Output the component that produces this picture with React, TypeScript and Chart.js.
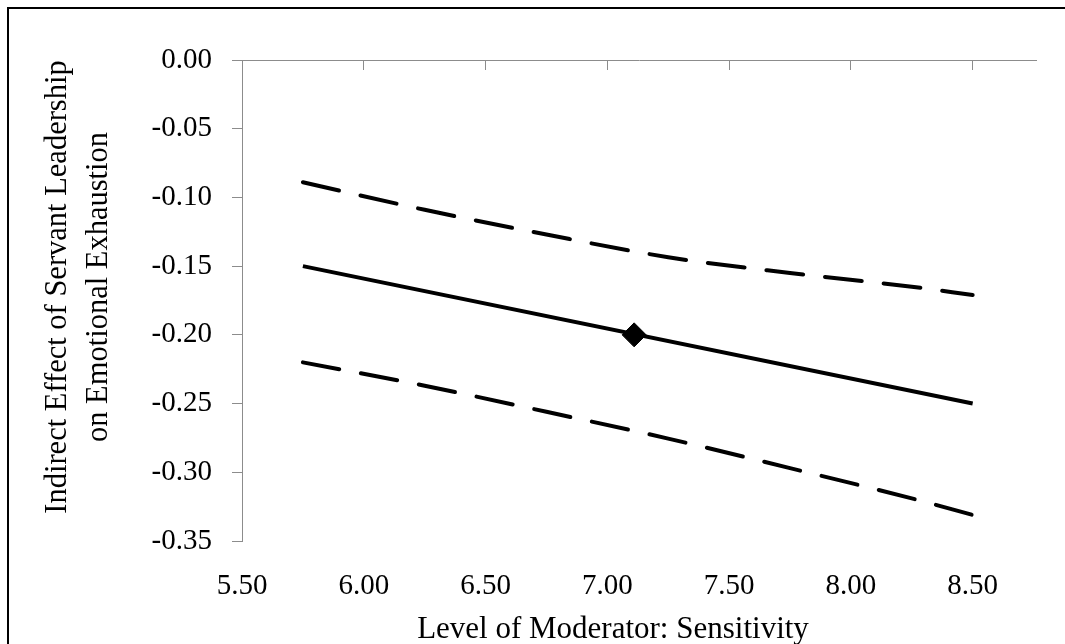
import React, { useEffect, useRef } from "react";
import { Chart, registerables } from "chart.js";

Chart.register(...registerables);

// ---- data ----
const moderatorLevels = [5.75, 6.25, 6.75, 7.25, 7.75, 8.25, 8.5];
const upperCI = [-0.089, -0.109, -0.127, -0.1435, -0.155, -0.165, -0.171];
const lowerCI = [-0.22, -0.237, -0.256, -0.2755, -0.297, -0.319, -0.331];
const effectLevels = [5.75, 8.5];
const indirectEffect = [-0.15, -0.25];
const meanLevel = [7.11];
const meanEffect = [-0.2];
const xTickValues = [5.5, 6.0, 6.5, 7.0, 7.5, 8.0, 8.5];
const yTickValues = [0, -0.05, -0.1, -0.15, -0.2, -0.25, -0.3, -0.35];
const xTitle = "Level of Moderator: Sensitivity";
const yTitleLines = ["Indirect Effect of Servant Leadership", "on Emotional Exhaustion"];

const FONT_FAMILY = '"Liberation Serif", serif';
const AXIS_GREY = "#8c8c8c";

const toPoints = (xs: number[], ys: number[]) => xs.map((x, i) => ({ x, y: ys[i] }));

const axisTitlePlugin = {
  id: "axisTitles",
  afterDraw(chart: any) {
    const ctx = chart.ctx as CanvasRenderingContext2D;
    ctx.save();
    ctx.fillStyle = "#000";
    ctx.textAlign = "center";
    ctx.textBaseline = "alphabetic";
    ctx.font = `31px ${FONT_FAMILY}`;
    ctx.fillText(xTitle, 613, 638);
    ctx.font = `30.5px ${FONT_FAMILY}`;
    ctx.translate(66, 287);
    ctx.rotate(-Math.PI / 2);
    ctx.fillText(yTitleLines[0], 0, 0);
    ctx.fillText(yTitleLines[1], 0, 41);
    ctx.restore();
  },
};

export default function App() {
  const canvasRef = useRef<HTMLCanvasElement | null>(null);

  useEffect(() => {
    const canvas = canvasRef.current;
    if (!canvas) return;
    const tickFont = { family: FONT_FAMILY, size: 29 };
    const dashed = {
      borderColor: "#000",
      borderWidth: 4,
      borderDash: [37, 22],
      borderCapStyle: "round",
      pointRadius: 0,
      cubicInterpolationMode: "monotone",
      xAxisID: "x",
    };
    const chart = new Chart(canvas, {
      type: "line",
      data: {
        datasets: [
          { label: "Upper CI", data: toPoints(moderatorLevels, upperCI), ...dashed },
          { label: "Lower CI", data: toPoints(moderatorLevels, lowerCI), ...dashed },
          {
            label: "Indirect effect",
            data: toPoints(effectLevels, indirectEffect),
            borderColor: "#000",
            borderWidth: 4,
            pointRadius: 0,
            tension: 0,
            xAxisID: "x",
          },
          {
            label: "Mean",
            data: toPoints(meanLevel, meanEffect),
            borderColor: "#000",
            backgroundColor: "#000",
            showLine: false,
            pointStyle: "rectRot",
            pointRadius: 12,
            pointBorderWidth: 1,
            xAxisID: "x",
          },
        ],
      },
      options: {
        animation: false,
        responsive: false,
        maintainAspectRatio: false,
        layout: { padding: { left: 0, top: 0, right: 29, bottom: 0 } },
        plugins: { legend: { display: false }, tooltip: { enabled: false }, title: { display: false } },
        scales: {
          x: {
            type: "linear",
            position: "bottom",
            min: 5.5,
            max: 8.76,
            afterBuildTicks: (s: any) => {
              s.ticks = xTickValues.map((v) => ({ value: v }));
            },
            afterFit: (s: any) => {
              s.height = 103;
            },
            border: { display: false },
            grid: { display: false },
            ticks: {
              color: "#000",
              font: tickFont,
              padding: 20,
              maxRotation: 0,
              autoSkip: false,
              callback: (v: any) => Number(v).toFixed(2),
            },
          },
          xTop: {
            type: "linear",
            position: "top",
            min: 5.5,
            max: 8.76,
            afterBuildTicks: (s: any) => {
              s.ticks = xTickValues.map((v) => ({ value: v }));
            },
            afterFit: (s: any) => {
              s.height = 60;
            },
            border: { display: true, color: AXIS_GREY, width: 1 },
            grid: { drawOnChartArea: false, drawTicks: true, tickLength: -10, color: AXIS_GREY, tickColor: AXIS_GREY },
            ticks: { display: false },
          },
          y: {
            type: "linear",
            min: -0.35,
            max: 0,
            afterBuildTicks: (s: any) => {
              s.ticks = yTickValues.map((v) => ({ value: v }));
            },
            afterFit: (s: any) => {
              s.width = 242;
            },
            border: { display: true, color: AXIS_GREY, width: 1 },
            grid: { drawOnChartArea: false, drawTicks: true, tickLength: 10, color: AXIS_GREY, tickColor: AXIS_GREY },
            ticks: {
              color: "#000",
              font: tickFont,
              padding: 20,
              autoSkip: false,
              callback: (v: any) => Number(v).toFixed(2),
            },
          },
        },
      },
      plugins: [axisTitlePlugin],
    } as any);
    return () => chart.destroy();
  }, []);

  return (
    <div style={{ position: "fixed", left: 0, top: 0, width: 1065, height: 644, overflow: "hidden", background: "#fff" }}>
      <div
        style={{
          position: "absolute",
          left: 7,
          top: 7,
          width: 1200,
          height: 800,
          border: "2px solid #000",
          boxSizing: "border-box",
        }}
      />
      <canvas
        ref={canvasRef}
        width={1065}
        height={644}
        style={{ position: "absolute", left: 0, top: 0, width: 1065, height: 644 }}
      />
    </div>
  );
}
